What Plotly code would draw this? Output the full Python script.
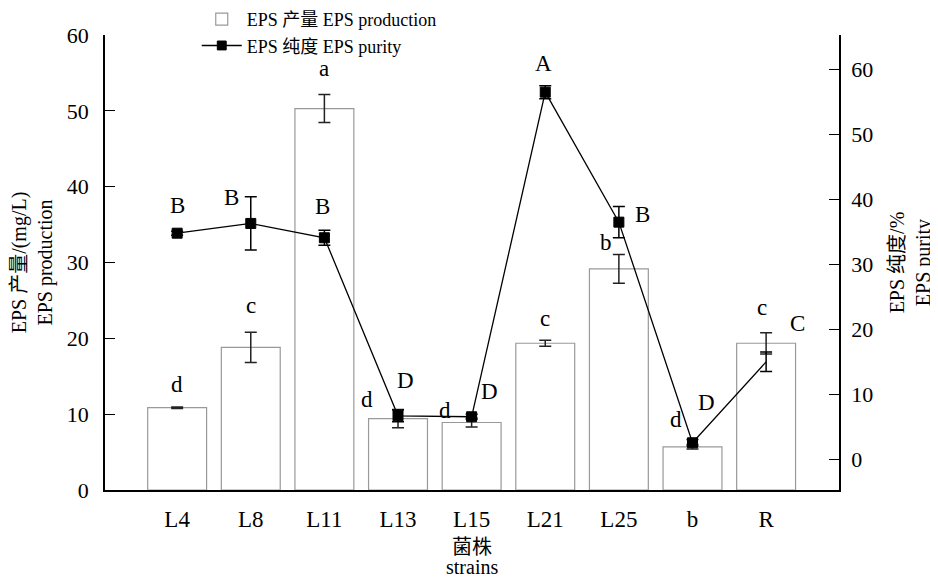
import plotly.graph_objects as go

strains = ["L4", "L8", "L11", "L13", "L15", "L21", "L25", "b", "R"]
production = [10.85, 18.8, 50.3, 9.4, 8.9, 19.35, 29.15, 5.7, 19.35]
production_err = [0.1, 2.0, 1.85, 1.2, 0.6, 0.4, 1.9, 0.3, 1.4]
purity = [34.8, 36.3, 34.1, 6.7, 6.55, 56.5, 36.5, 2.55, 15.0]
purity_err = [0.3, 4.1, 1.15, 0.9, 0.4, 1.0, 2.4, 0.5, 1.5]
prod_letters = ["d", "c", "a", "d", "d", "c", "b", "d", "c"]
pur_letters = ["B", "B", "B", "D", "D", "A", "B", "D", "C"]
x_title_zh = "菌株"
x_title_en = "strains"

# label pixel offsets (style)
prod_dx = [0, 0, 0, -31, -27, 0, -13, -16, -4]
prod_dy = [23, 42, 40, 19, 12, 25, 26, 27, 36]
pur_dx = [0, -19, -2, 7, 18, -2, 24, 14, 31]
pur_dy = [28, 26, 31, 35, 25, 29, 8, 40, 38]

FONT = "Liberation Serif, Times New Roman, Noto Sans CJK SC"

fig = go.Figure()
fig.add_trace(go.Bar(
    x=strains, y=production, name="EPS 产量 EPS production",
    width=0.8,
    marker=dict(color="white", line=dict(color="#999999", width=1.2)),
    error_y=dict(type="data", array=production_err, color="#222", thickness=1.5, width=6),
    yaxis="y",
))
fig.add_trace(go.Scatter(
    x=strains, y=purity, name="EPS 纯度 EPS purity",
    mode="lines+markers", opacity=1,
    line=dict(color="black", width=1.3),
    marker=dict(symbol="square", size=[10]*8 + [0], color="black", opacity=1,
                line=dict(color="black", width=1)),
    error_y=dict(type="data", array=purity_err, color="black", thickness=1.5, width=6),
    yaxis="y2",
))

ann = []
for i, s in enumerate(strains):
    ann.append(dict(x=s, y=production[i], xref="x", yref="y", text=prod_letters[i],
                    showarrow=False, xshift=prod_dx[i], yshift=prod_dy[i],
                    font=dict(family=FONT, size=23, color="black")))
    ann.append(dict(x=s, y=purity[i], xref="x", yref="y2", text=pur_letters[i],
                    showarrow=False, xshift=pur_dx[i], yshift=pur_dy[i],
                    font=dict(family=FONT, size=23, color="black")))
ann.append(dict(x=0.5, y=0, xref="paper", yref="paper", text=x_title_zh, showarrow=False,
                yanchor="middle", yshift=-57, font=dict(family=FONT, size=20, color="black")))
ann.append(dict(x=0.5, y=0, xref="paper", yref="paper", text=x_title_en, showarrow=False,
                yanchor="middle", yshift=-77, font=dict(family=FONT, size=20, color="black")))

fig.update_layout(
    width=930, height=573,
    margin=dict(l=97, r=99, t=27, b=91, autoexpand=False),
    plot_bgcolor="white", paper_bgcolor="white",
    font=dict(family=FONT, size=20, color="black"),
    showlegend=True,
    legend=dict(x=0.125, y=1.075, xanchor="left", yanchor="top",
                bgcolor="rgba(0,0,0,0)", font=dict(size=18), tracegroupgap=0,
                itemwidth=40),
    bargap=0.2,
    xaxis=dict(range=[-0.98, 8.99], showline=True, linecolor="black", linewidth=1.5,
               ticks="", showgrid=False, tickfont=dict(size=23), automargin=False,
               ticklabelstandoff=8),
    yaxis=dict(range=[0, 60], dtick=10, showline=True, linecolor="black", linewidth=1.5,
               ticks="inside", ticklen=10, tickcolor="black", showgrid=False, zeroline=False,
               tickfont=dict(size=22), automargin=False, ticklabelstandoff=10,
               title=dict(text="EPS 产量/(mg/L)<br>EPS production", font=dict(size=20), standoff=18)),
    yaxis2=dict(range=[-4.72, 65.3], dtick=10, tick0=0, overlaying="y", side="right",
                showline=True, linecolor="black", linewidth=1.5,
                ticks="inside", ticklen=10, tickcolor="black", showgrid=False, zeroline=False,
                tickfont=dict(size=22), automargin=False, ticklabelstandoff=6,
                title=dict(text="EPS 纯度/%<br>EPS purity", font=dict(size=20), standoff=18)),
    annotations=ann,
)

fig.write_html("out.html")
